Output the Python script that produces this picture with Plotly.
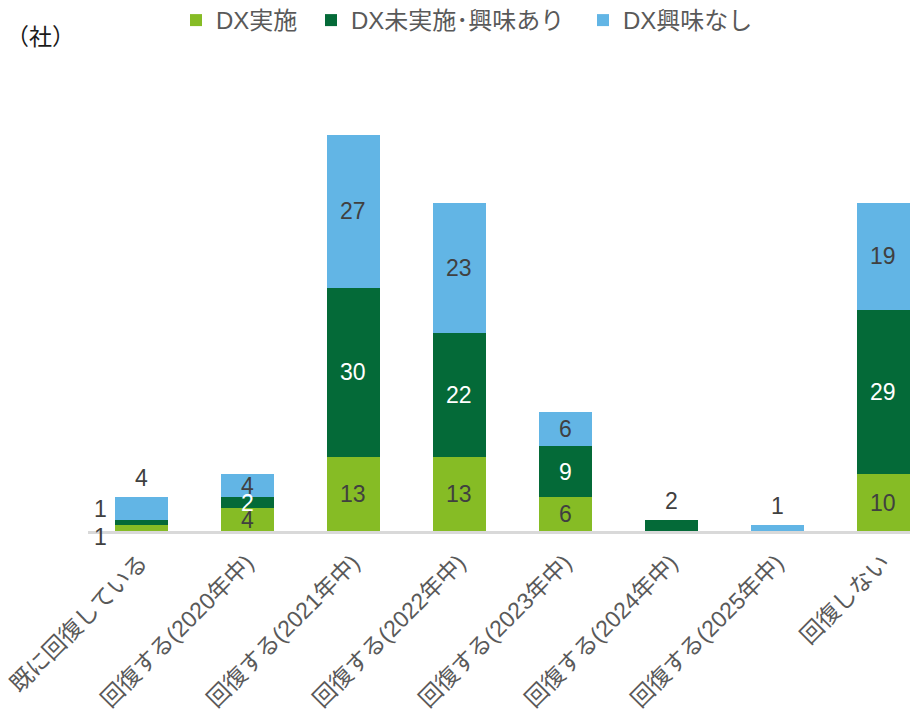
import plotly.graph_objects as go

categories = ["既に回復している", "回復する(2020年中)", "回復する(2021年中)", "回復する(2022年中)",
              "回復する(2023年中)", "回復する(2024年中)", "回復する(2025年中)", "回復しない"]
series_names = ["DX実施", "DX未実施･興味あり", "DX興味なし"]
dx_done = [1, 4, 13, 13, 6, 0, 0, 10]
dx_interest = [1, 2, 30, 22, 9, 2, 0, 29]
dx_no_interest = [4, 4, 27, 23, 6, 0, 1, 19]

values = [dx_done, dx_interest, dx_no_interest]
colors = ["#86BC25", "#046A38", "#62B5E5"]
text_colors = ["#404040", "#FFFFFF", "#404040"]
legend_ids = ["legend", "legend2", "legend3"]
legend_left_px = [168, 303, 575]   # figure pixel offsets (style only)
FONT = "Liberation Sans, Arial, Noto Sans CJK JP, sans-serif"

# page body adds an 8px margin; figure sized/positioned to compensate
W, H = 910, 716
L, R, T = 80, 0, 70
PH = 453
B = H - T - PH
PW = W - L - R

fig = go.Figure()
for name, vals, col, lid in zip(series_names, values, colors, legend_ids):
    fig.add_trace(go.Bar(x=categories, y=vals, name=name, marker_color=col,
                         marker_line_width=0, legend=lid))

# label placement tweaks (style only)
above = {(1, 5), (2, 6), (2, 0)}
shifts = {(0, 0): (-41, -9), (1, 0): (-41, 14)}

annotations = []
for ci, cat in enumerate(categories):
    base = 0
    for si, vals in enumerate(values):
        v = vals[ci]
        if v > 0:
            if (si, ci) in above:
                annotations.append(dict(x=cat, y=base + v, xref="x", yref="y", text=str(v),
                                        showarrow=False, yanchor="bottom", yshift=4,
                                        font=dict(size=23, color="#404040", family=FONT)))
            else:
                xs, ys = shifts.get((si, ci), (0, 0))
                col = text_colors[si] if (si, ci) not in shifts else "#404040"
                annotations.append(dict(x=cat, y=base + v / 2, xref="x", yref="y", text=str(v),
                                        showarrow=False, xshift=xs, yshift=ys,
                                        font=dict(size=23, color=col, family=FONT)))
        base += v

annotations.append(dict(x=(-4 - L) / PW, y=1 + (T - 27) / PH, xref="paper", yref="paper",
                        text="（社）", showarrow=False, xanchor="left", yanchor="middle",
                        font=dict(size=23, color="#1a1a1a", family="Noto Sans CJK JP")))

legend_common = dict(orientation="h", xanchor="left", y=1 + (T + 10) / PH, yref="paper",
                     yanchor="top", font=dict(size=24, color="#595959", family=FONT),
                     itemwidth=30, bgcolor="rgba(0,0,0,0)")
layout_legends = {}
for lid, px in zip(legend_ids, legend_left_px):
    layout_legends[lid] = dict(legend_common, x=(px - L) / PW)

fig.update_layout(
    barmode="stack",
    bargap=0.5,
    width=W, height=H,
    margin=dict(l=L, r=R, t=T, b=B, autoexpand=False),
    plot_bgcolor="white", paper_bgcolor="white",
    font=dict(family=FONT, color="#595959", size=23),
    showlegend=True,
    annotations=annotations,
    **layout_legends,
)
fig.update_xaxes(range=[-0.5, 7.33], showline=True, linecolor="#D9D9D9", linewidth=3,
                 tickangle=-45, tickfont=dict(size=23, color="#595959", family=FONT),
                 ticks="", showgrid=False, automargin=False, ticklabelstandoff=6)
fig.update_yaxes(range=[0, 80], visible=False, showgrid=False, automargin=False)

fig.write_html("out.html")
